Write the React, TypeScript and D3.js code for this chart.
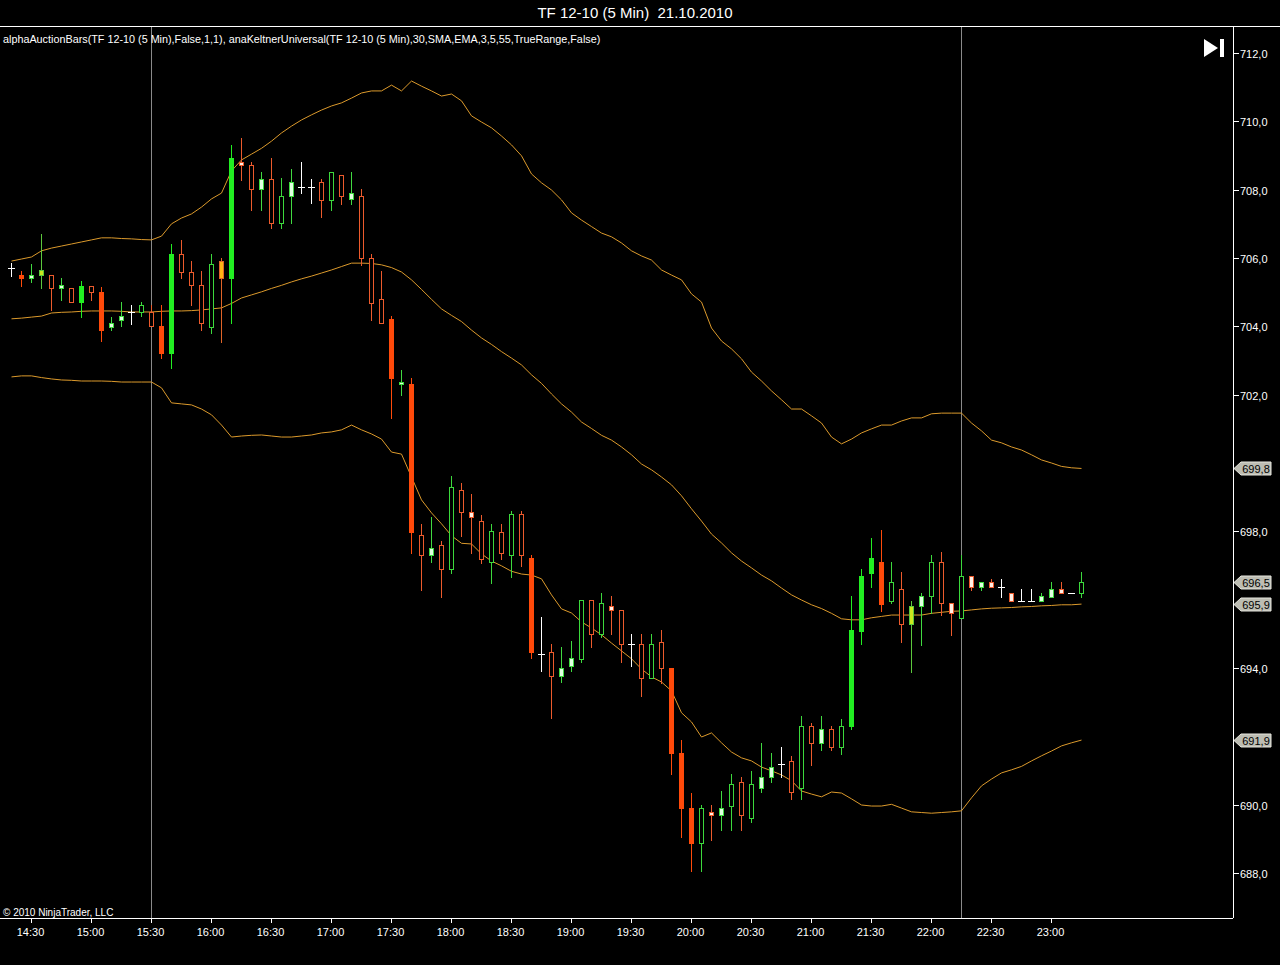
import React, { useEffect, useRef } from 'react';
import * as d3 from 'd3';

// TF 12-10, 5 minute bars, 21.10.2010 (first bar 14:20)
const opens = [
    705.70, 705.50, 705.41, 705.50, 705.50, 705.11, 705.11, 704.70, 705.19, 705.00,
    703.99, 704.19, 704.41, 704.41, 704.43, 704.00, 703.21, 706.12, 705.60, 705.21,
    703.99, 705.91, 705.41, 708.82, 708.72, 708.01, 708.30, 707.02, 707.82, 708.09,
    708.09, 708.22, 707.70, 708.43, 707.72, 707.82, 706.00, 704.79, 704.22, 702.30,
    702.30, 697.89, 697.31, 697.60, 696.89, 699.21, 698.58, 698.30, 697.09, 697.99,
    697.31, 698.51, 697.23, 694.40, 694.48, 693.78, 694.07, 694.27, 695.99, 695.00,
    695.82, 695.70, 694.70, 694.70, 693.70, 694.77, 693.99, 691.50, 689.89, 688.89,
    689.80, 689.70, 689.97, 690.67, 689.60, 690.48, 690.80, 691.18, 691.29, 690.48,
    692.30, 691.80, 692.21, 691.68, 692.29, 695.09, 696.79, 697.11, 695.96, 696.31,
    695.30, 695.82, 696.11, 697.10, 695.90, 695.47, 696.69, 696.38, 696.51, 696.38,
    696.19, 695.96, 695.96, 695.96, 696.09, 696.31, 696.19, 696.19
];
const highs = [
    705.85, 705.62, 705.82, 706.70, 705.50, 705.42, 705.11, 705.33, 705.19, 705.16,
    704.28, 704.70, 704.63, 704.70, 704.63, 704.63, 706.41, 706.53, 705.90, 705.63,
    706.12, 706.00, 709.31, 709.50, 708.82, 708.53, 708.92, 708.33, 708.60, 708.80,
    708.30, 708.30, 708.51, 708.43, 708.53, 708.01, 706.12, 705.62, 704.31, 702.72,
    702.50, 698.22, 698.43, 697.73, 699.62, 699.42, 699.09, 698.48, 698.22, 698.22,
    698.60, 698.60, 697.31, 695.50, 694.70, 694.62, 694.79, 695.99, 695.99, 696.19,
    696.12, 695.70, 694.99, 694.99, 694.99, 695.10, 693.99, 691.89, 690.33, 689.99,
    689.99, 690.41, 690.90, 690.82, 691.00, 691.80, 691.50, 691.70, 691.41, 692.60,
    692.38, 692.60, 692.30, 692.50, 696.12, 696.90, 697.80, 698.04, 697.11, 696.82,
    695.96, 696.19, 697.31, 697.39, 695.90, 697.31, 696.69, 696.51, 696.60, 696.60,
    696.19, 696.31, 696.31, 696.19, 696.51, 696.51, 696.19, 696.82
];
const lows = [
    705.48, 705.19, 705.30, 705.11, 704.48, 704.77, 704.70, 704.28, 704.77, 703.57,
    703.90, 704.00, 704.07, 704.31, 704.00, 703.08, 702.79, 705.41, 704.63, 703.90,
    703.80, 703.55, 704.09, 708.28, 707.40, 707.40, 706.89, 706.89, 707.02, 707.90,
    707.60, 707.21, 707.40, 707.58, 707.58, 705.80, 704.19, 704.09, 701.31, 702.00,
    697.38, 696.28, 697.09, 696.09, 696.79, 697.86, 697.38, 697.07, 696.50, 697.18,
    696.67, 696.99, 694.28, 693.90, 692.55, 693.58, 693.90, 694.19, 694.60, 694.91,
    694.99, 694.19, 694.07, 693.19, 693.70, 693.56, 690.90, 689.05, 688.07, 688.07,
    688.97, 689.26, 689.26, 689.26, 689.48, 690.38, 690.67, 690.82, 690.17, 690.17,
    691.16, 691.60, 691.60, 691.48, 692.20, 694.70, 696.38, 695.67, 695.89, 694.77,
    693.89, 694.67, 695.60, 695.55, 694.97, 695.47, 696.28, 696.28, 696.38, 696.09,
    695.96, 695.96, 695.96, 695.96, 696.09, 696.19, 696.19, 696.09
];
const closes = [
    705.70, 705.41, 705.50, 705.64, 705.11, 705.20, 704.70, 705.19, 705.00, 703.90,
    704.09, 704.30, 704.41, 704.63, 704.00, 703.21, 706.12, 705.60, 705.21, 704.09,
    705.83, 705.41, 708.92, 708.72, 708.01, 708.30, 707.02, 707.82, 708.22, 708.09,
    708.09, 707.70, 708.51, 707.82, 707.91, 706.00, 704.69, 704.09, 702.50, 702.38,
    697.99, 697.31, 697.50, 696.89, 699.29, 698.58, 698.41, 697.18, 698.00, 697.38,
    698.51, 697.31, 694.48, 694.40, 693.78, 693.99, 694.28, 695.99, 694.99, 695.89,
    695.70, 694.70, 694.70, 693.70, 694.70, 693.99, 691.50, 689.89, 688.89, 689.89,
    689.70, 689.89, 690.60, 689.70, 690.60, 690.80, 691.10, 691.18, 690.38, 692.30,
    691.80, 692.21, 691.68, 692.30, 695.11, 696.69, 697.23, 695.87, 696.51, 695.30,
    695.82, 696.11, 697.10, 695.90, 695.60, 696.69, 696.38, 696.51, 696.38, 696.38,
    695.96, 695.96, 695.96, 696.11, 696.31, 696.19, 696.19, 696.51
];
// alphaAuctionBars style per bar:
// R strong down, r down, G strong up, g up, l light up, p light down, y / o yellow, w doji
const barKinds = [
    'w', 'R', 'l', 'y', 'r', 'l', 'r', 'G', 'r', 'R',
    'l', 'l', 'w', 'g', 'r', 'R', 'G', 'r', 'r', 'r',
    'g', 'o', 'G', 'p', 'r', 'l', 'r', 'g', 'l', 'w',
    'w', 'r', 'g', 'r', 'l', 'r', 'r', 'r', 'R', 'l',
    'R', 'r', 'l', 'r', 'g', 'r', 'p', 'r', 'g', 'r',
    'g', 'r', 'R', 'w', 'r', 'l', 'l', 'g', 'r', 'g',
    'p', 'r', 'w', 'r', 'g', 'r', 'R', 'R', 'R', 'g',
    'p', 'l', 'g', 'r', 'g', 'l', 'l', 'w', 'r', 'g',
    'r', 'l', 'r', 'g', 'G', 'G', 'G', 'R', 'g', 'r',
    'y', 'l', 'g', 'r', 'p', 'g', 'p', 'l', 'p', 'w',
    'p', 'w', 'w', 'l', 'l', 'p', 'w', 'g'
];

// anaKeltnerUniversal bands
const upperBand = [
    705.91, 705.97, 706.03, 706.21, 706.29, 706.35, 706.41, 706.47, 706.53, 706.59,
    706.59, 706.57, 706.56, 706.54, 706.53, 706.64, 707.00, 707.17, 707.29, 707.49,
    707.73, 707.90, 708.55, 708.87, 709.04, 709.21, 709.42, 709.66, 709.86, 710.04,
    710.19, 710.33, 710.45, 710.54, 710.68, 710.83, 710.89, 710.89, 711.06, 710.89,
    711.18, 711.03, 710.89, 710.74, 710.80, 710.60, 710.16, 709.98, 709.81, 709.57,
    709.31, 708.99, 708.46, 708.20, 707.99, 707.70, 707.32, 707.11, 706.92, 706.73,
    706.62, 706.44, 706.21, 706.06, 705.94, 705.65, 705.50, 705.36, 704.95, 704.71,
    703.95, 703.57, 703.34, 703.05, 702.66, 702.40, 702.11, 701.85, 701.58, 701.58,
    701.38, 701.17, 700.76, 700.56, 700.70, 700.88, 701.00, 701.11, 701.11, 701.23,
    701.32, 701.32, 701.44, 701.46, 701.46, 701.46, 701.17, 700.94, 700.67, 700.59,
    700.47, 700.38, 700.24, 700.09, 700.00, 699.90, 699.86, 699.84
];
const middleBand = [
    704.22, 704.24, 704.27, 704.30, 704.39, 704.41, 704.42, 704.44, 704.45, 704.45,
    704.45, 704.44, 704.42, 704.42, 704.42, 704.44, 704.45, 704.45, 704.46, 704.48,
    704.51, 704.54, 704.67, 704.83, 704.92, 705.01, 705.11, 705.20, 705.30, 705.39,
    705.47, 705.56, 705.65, 705.75, 705.85, 705.85, 705.84, 705.80, 705.72, 705.59,
    705.36, 705.08, 704.79, 704.51, 704.32, 704.14, 703.89, 703.66, 703.47, 703.26,
    703.07, 702.87, 702.58, 702.33, 702.02, 701.73, 701.49, 701.20, 701.01, 700.81,
    700.67, 700.47, 700.24, 699.97, 699.80, 699.59, 699.36, 699.04, 698.66, 698.30,
    697.92, 697.66, 697.37, 697.13, 696.93, 696.72, 696.55, 696.34, 696.14, 695.99,
    695.85, 695.74, 695.60, 695.44, 695.41, 695.41, 695.47, 695.51, 695.55, 695.55,
    695.55, 695.55, 695.60, 695.63, 695.66, 695.67, 695.70, 695.73, 695.75, 695.76,
    695.77, 695.79, 695.80, 695.82, 695.83, 695.85, 695.85, 695.87
];
const lowerBand = [
    702.52, 702.55, 702.55, 702.50, 702.46, 702.43, 702.42, 702.40, 702.40, 702.40,
    702.39, 702.37, 702.37, 702.37, 702.37, 702.20, 701.76, 701.73, 701.70, 701.58,
    701.41, 701.11, 700.76, 700.79, 700.81, 700.82, 700.79, 700.76, 700.76, 700.79,
    700.82, 700.88, 700.91, 700.97, 701.11, 700.97, 700.85, 700.70, 700.32, 700.26,
    699.59, 698.92, 698.54, 698.22, 697.87, 697.65, 697.63, 697.34, 697.13, 696.99,
    696.83, 696.75, 696.72, 696.61, 696.14, 695.73, 695.61, 695.35, 695.17, 694.97,
    694.73, 694.50, 694.27, 693.97, 693.74, 693.59, 693.33, 692.69, 692.42, 691.98,
    692.10, 691.81, 691.54, 691.37, 691.28, 691.10, 690.99, 690.87, 690.70, 690.40,
    690.31, 690.23, 690.37, 690.34, 690.17, 689.99, 689.96, 689.96, 690.01, 689.90,
    689.79, 689.77, 689.75, 689.77, 689.79, 689.82, 690.20, 690.55, 690.75, 690.93,
    691.02, 691.12, 691.28, 691.43, 691.57, 691.72, 691.81, 691.89
];

const yTickValues = [688, 690, 692, 694, 696, 698, 700, 702, 704, 706, 708, 710, 712];
// session break lines (bar index)
const sessionBreaks = [14, 95];

const TITLE = 'TF 12-10 (5 Min)\u00A0 21.10.2010';
const LEGEND = 'alphaAuctionBars(TF 12-10 (5 Min),False,1,1), anaKeltnerUniversal(TF 12-10 (5 Min),30,SMA,EMA,3,5,55,TrueRange,False)';

const kindStyle: Record<string, { fill: string; stroke: string }> = {
    R: { fill: '#FF4A0A', stroke: '#FF4A0A' },
    r: { fill: 'none', stroke: '#EC5A2C' },
    G: { fill: '#22EE22', stroke: '#22EE22' },
    g: { fill: 'none', stroke: '#3CD83C' },
    l: { fill: '#E2FFE2', stroke: '#40DA40' },
    p: { fill: '#FFF0E6', stroke: '#EC5A2C' },
    y: { fill: '#CCE61E', stroke: '#5CC83C' },
    o: { fill: '#FFB414', stroke: '#E06428' },
    w: { fill: 'none', stroke: '#FFFFFF' },
};

const W = 1280;
const H = 965;

const App: React.FC = () => {
    const svgRef = useRef<SVGSVGElement>(null);

    useEffect(() => {
        document.body.style.margin = '0';
        document.body.style.background = '#000';
        if (!svgRef.current) return;
        const svg = d3.select(svgRef.current);
        svg.selectAll('*').remove();

        const font = "'Liberation Sans', Arial, sans-serif";
        const plotTop = 27;
        const plotBottom = 918;
        const axisX = 1233;

        const start = new Date(2010, 9, 21, 14, 20);
        const times = opens.map((_, i) => d3.timeMinute.offset(start, i * 5));

        const x = d3.scaleTime()
            .domain([times[0], times[times.length - 1]])
            .range([11, 11 + 10 * (times.length - 1)]);
        const y = d3.scaleLinear().domain([688, 712]).range([873, 53]);
        const xi = (i: number) => Math.round(x(times[i])) + 0.5;

        svg.append('rect').attr('width', W).attr('height', H).attr('fill', '#000');

        // title + frame
        svg.append('text')
            .attr('x', 635).attr('y', 18)
            .attr('text-anchor', 'middle')
            .attr('fill', '#fff')
            .style('font', `15px ${font}`)
            .text(TITLE);
        svg.append('line')
            .attr('x1', 0).attr('x2', W).attr('y1', 26.5).attr('y2', 26.5)
            .attr('stroke', '#fff');
        svg.append('line')
            .attr('x1', 0).attr('x2', axisX).attr('y1', plotBottom + 0.5).attr('y2', plotBottom + 0.5)
            .attr('stroke', '#fff');
        svg.append('line')
            .attr('x1', axisX + 0.5).attr('x2', axisX + 0.5).attr('y1', plotTop).attr('y2', plotBottom)
            .attr('stroke', '#fff');

        // session separators
        sessionBreaks.forEach(i => {
            svg.append('line')
                .attr('x1', xi(i)).attr('x2', xi(i))
                .attr('y1', plotTop).attr('y2', plotBottom)
                .attr('stroke', '#8A8A8A');
        });

        // keltner bands
        const bandLine = d3.line<number>()
            .x((_, i) => xi(i))
            .y(d => y(d));
        [upperBand, middleBand, lowerBand].forEach(band => {
            svg.append('path')
                .datum(band)
                .attr('fill', 'none')
                .attr('stroke', '#DC9A2C')
                .attr('stroke-width', 1)
                .attr('d', bandLine);
        });

        // bars
        const g = svg.append('g');
        opens.forEach((o, i) => {
            const c = closes[i];
            const kind = barKinds[i];
            const st = kindStyle[kind];
            const cx = xi(i);
            g.append('line')
                .attr('x1', cx).attr('x2', cx)
                .attr('y1', Math.round(y(highs[i]))).attr('y2', Math.round(y(lows[i])) + 1)
                .attr('stroke', st.stroke);
            if (kind === 'w') {
                const yy = Math.round(y(o)) + 0.5;
                g.append('line')
                    .attr('x1', cx - 3.5).attr('x2', cx + 3.5)
                    .attr('y1', yy).attr('y2', yy)
                    .attr('stroke', st.stroke);
                return;
            }
            const top = Math.round(y(Math.max(o, c)));
            const bot = Math.round(y(Math.min(o, c)));
            const h = Math.max(2, bot - top);
            if (kind === 'R' || kind === 'G') {
                g.append('rect')
                    .attr('x', cx - 2.5).attr('y', top)
                    .attr('width', 5).attr('height', h + 1)
                    .attr('fill', st.fill);
            } else {
                g.append('rect')
                    .attr('x', cx - 2).attr('y', top + 0.5)
                    .attr('width', 4).attr('height', h)
                    .attr('fill', st.fill === 'none' ? '#000' : st.fill)
                    .attr('stroke', st.stroke);
            }
        });

        // legend line and copyright
        svg.append('text')
            .attr('x', 3).attr('y', 43)
            .attr('fill', '#fff')
            .style('font', `10.8px ${font}`)
            .text(LEGEND);
        svg.append('text')
            .attr('x', 3).attr('y', 916)
            .attr('fill', '#fff')
            .style('font', `10px ${font}`)
            .text('\u00A9 2010 NinjaTrader, LLC');

        // "go to last bar" button
        svg.append('path')
            .attr('d', 'M1204,39 L1204,57 L1218,48 Z')
            .attr('fill', '#fff');
        svg.append('rect')
            .attr('x', 1220).attr('y', 39).attr('width', 4).attr('height', 18)
            .attr('fill', '#fff');

        // right axis
        const markers = [
            { v: upperBand[upperBand.length - 1] },
            { v: closes[closes.length - 1] },
            { v: middleBand[middleBand.length - 1] },
            { v: lowerBand[lowerBand.length - 1] },
        ];
        const fmt = (v: number) => d3.format('.1f')(v).replace('.', ',');
        yTickValues.forEach(v => {
            const yy = Math.round(y(v)) + 0.5;
            if (markers.some(m => Math.abs(y(m.v) - yy) < 12)) return;
            svg.append('line')
                .attr('x1', axisX).attr('x2', axisX + 6)
                .attr('y1', yy).attr('y2', yy)
                .attr('stroke', '#fff');
            svg.append('text')
                .attr('x', axisX + 7).attr('y', yy + 4)
                .attr('fill', '#fff')
                .style('font', `11px ${font}`)
                .text(fmt(v));
        });
        markers.forEach(m => {
            const cy = Math.round(y(m.v)) + 0.5;
            svg.append('path')
                .attr('d', `M${axisX + 1},${cy} L${axisX + 8},${cy - 6.5} L1271,${cy - 6.5} L1271,${cy + 6.5} L${axisX + 8},${cy + 6.5} Z`)
                .attr('fill', '#BDBDB3')
                .attr('stroke', '#E6E6DE');
            svg.append('text')
                .attr('x', 1256).attr('y', cy + 4)
                .attr('text-anchor', 'middle')
                .attr('fill', '#000')
                .style('font', `11px ${font}`)
                .text(fmt(m.v));
        });

        // time axis
        const xTicks = x.ticks(d3.timeMinute.every(30)!);
        const tfmt = d3.timeFormat('%H:%M');
        xTicks.forEach(t => {
            const xx = Math.round(x(t)) + 0.5;
            svg.append('line')
                .attr('x1', xx).attr('x2', xx)
                .attr('y1', plotBottom).attr('y2', plotBottom + 5)
                .attr('stroke', '#fff');
            svg.append('text')
                .attr('x', xx - 1).attr('y', 936)
                .attr('text-anchor', 'middle')
                .attr('fill', '#fff')
                .style('font', `11px ${font}`)
                .text(tfmt(t));
        });
    }, []);

    return <svg ref={svgRef} width={W} height={H} style={{ display: 'block' }} />;
};

export default App;
